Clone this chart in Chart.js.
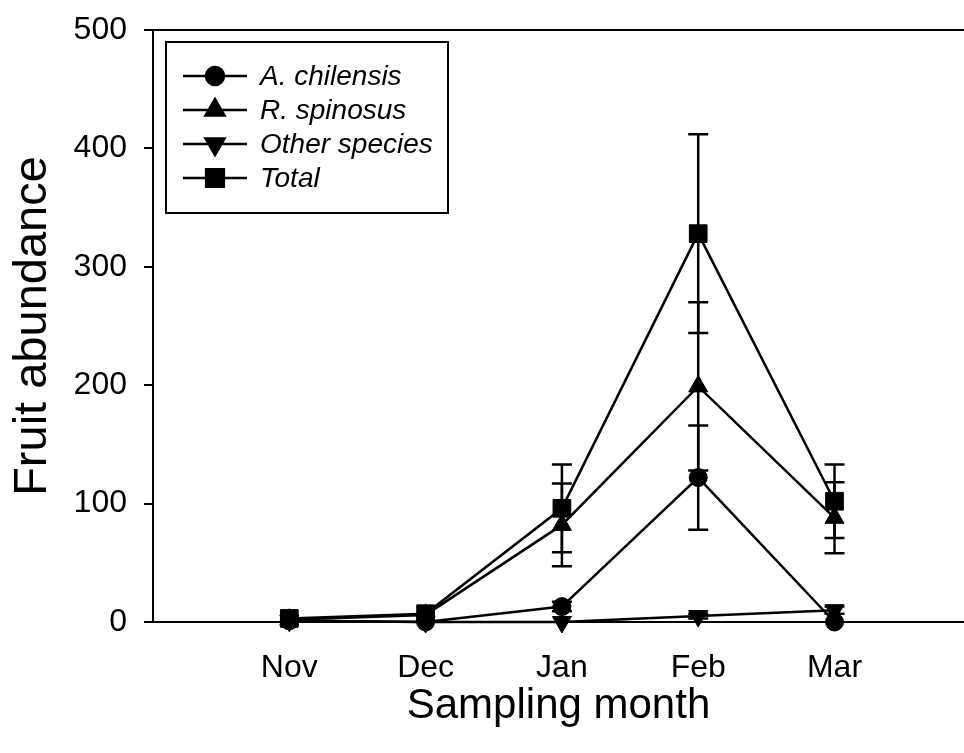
<!DOCTYPE html>
<html>
<head>
<meta charset="utf-8">
<script src="https://cdn.jsdelivr.net/npm/chart.js@4.4.0/dist/chart.umd.min.js"></script>
<style>
  html, body { margin: 0; padding: 0; background: #fff; }
  canvas { display: block; }
</style>
</head>
<body>
<canvas id="fruitChart" width="964" height="753"></canvas>
<script>
// data
const months = ['Nov', 'Dec', 'Jan', 'Feb', 'Mar'];
const yTickValues = [0, 100, 200, 300, 400, 500];

const chilensis = [1, 0, 13, 122, 0];
const chilensisErr = [0, 0, 4, 44, 0];
const spinosus = [2, 6, 82, 199, 88];
const spinosusErr = [0, 0, 35, 71, 30];
const otherSpecies = [1, 0, 0, 5, 10];
const otherErr = [0, 0, 0, 2, 3];
const total = [3, 7, 96, 328, 102];
const totalErr = [0, 0, 37, 84, 31];

const FONT = '"Liberation Sans", Arial, sans-serif';

// month index 1..5 on a linear axis, the plot runs slightly past the canvas edge
function toPoints(values) {
    return values.map((v, i) => ({ x: i + 1, y: v }));
}

function makeSeries(label, values, errors, style, rotation, radius) {
    return {
        label: label,
        data: toPoints(values),
        errors: errors,
        borderColor: '#000',
        backgroundColor: '#000',
        borderWidth: 2.5,
        pointStyle: style,
        rotation: rotation,
        pointRadius: radius,
        pointBorderWidth: 1,
        tension: 0,
        clip: false
    };
}

// Error bars - drawn before the markers so the markers sit on top
const errorBars = {
    id: 'errorBars',
    beforeDatasetsDraw(chart) {
        const ctx = chart.ctx;
        const x = chart.scales.x, y = chart.scales.y;
        ctx.save();
        ctx.strokeStyle = '#000';
        ctx.lineWidth = 2.5;
        chart.data.datasets.forEach(ds => {
            ds.data.forEach((p, i) => {
                const e = ds.errors[i];
                if (!e) return;
                const px = x.getPixelForValue(p.x);
                const top = y.getPixelForValue(p.y + e);
                const bot = y.getPixelForValue(p.y - e);
                ctx.beginPath();
                ctx.moveTo(px, top); ctx.lineTo(px, bot);
                ctx.moveTo(px - 10, top); ctx.lineTo(px + 10, top);
                ctx.moveTo(px - 10, bot); ctx.lineTo(px + 10, bot);
                ctx.stroke();
            });
        });
        ctx.restore();
    }
};

// Top frame line + boxed legend with line-through markers
const frameAndLegend = {
    id: 'frameAndLegend',
    afterDraw(chart) {
        const ctx = chart.ctx;
        const area = chart.chartArea;
        ctx.save();
        ctx.strokeStyle = '#000';
        ctx.lineWidth = 2;
        ctx.beginPath();
        ctx.moveTo(area.left, area.top);
        ctx.lineTo(area.right, area.top);
        ctx.stroke();

        const bx = area.left + 13, by = area.top + 12;
        ctx.strokeRect(bx, by, 282, 171);

        ctx.font = 'italic 28px ' + FONT;
        ctx.textBaseline = 'middle';
        ctx.fillStyle = '#000';
        chart.data.datasets.forEach((ds, i) => {
            const ry = by + 34 + i * 34;
            ctx.lineWidth = 2.5;
            ctx.beginPath();
            ctx.moveTo(bx + 17, ry);
            ctx.lineTo(bx + 81, ry);
            ctx.stroke();
            Chart.helpers.drawPoint(ctx, {
                pointStyle: ds.pointStyle,
                rotation: ds.rotation,
                radius: ds.pointRadius,
                borderWidth: 1
            }, bx + 49, ry);
            ctx.fill();
            ctx.fillText(ds.label, bx + 94, ry + 1);
        });
        ctx.restore();
    }
};

new Chart(document.getElementById('fruitChart'), {
    type: 'line',
    data: {
        datasets: [
            makeSeries('A. chilensis', chilensis, chilensisErr, 'circle', 0, 9),
            makeSeries('R. spinosus', spinosus, spinosusErr, 'triangle', 0, 11),
            makeSeries('Other species', otherSpecies, otherErr, 'triangle', 180, 11),
            makeSeries('Total', total, totalErr, 'rect', 0, 12.5)
        ]
    },
    options: {
        responsive: false,
        animation: false,
        events: [],
        layout: { autoPadding: false, padding: { top: 30, right: 0, left: 0, bottom: 0 } },
        plugins: {
            legend: { display: false },
            tooltip: { enabled: false }
        },
        scales: {
            x: {
                type: 'linear',
                min: 0,
                max: 5.95,
                afterBuildTicks: axis => {
                    axis.ticks = months.map((m, i) => ({ value: i + 1 }));
                },
                afterFit: axis => {
                    axis.height = 131;
                    axis.paddingLeft = 0;
                    axis.paddingRight = 0;
                },
                ticks: {
                    color: '#000',
                    padding: 27,
                    font: { family: FONT, size: 32 },
                    callback: v => months[v - 1] || ''
                },
                grid: { display: false, drawTicks: false },
                border: { display: true, color: '#000', width: 2 },
                title: {
                    display: true,
                    text: 'Sampling month',
                    color: '#000',
                    font: { family: FONT, size: 42, lineHeight: 1 },
                    padding: { top: 0, bottom: 26 }
                }
            },
            y: {
                min: 0,
                max: 500,
                afterBuildTicks: axis => {
                    axis.ticks = yTickValues.map(v => ({ value: v }));
                },
                afterFit: axis => {
                    axis.width = 153;
                    axis.paddingTop = 0;
                    axis.paddingBottom = 0;
                },
                ticks: {
                    color: '#000',
                    padding: 17,
                    font: { family: FONT, size: 32 }
                },
                grid: {
                    drawOnChartArea: false,
                    drawTicks: true,
                    tickLength: 9,
                    color: '#000',
                    lineWidth: 2
                },
                border: { display: true, color: '#000', width: 2 },
                title: {
                    display: true,
                    text: 'Fruit abundance',
                    color: '#000',
                    font: { family: FONT, size: 47, lineHeight: 1 },
                    padding: { top: 10, bottom: 0 }
                }
            }
        }
    },
    plugins: [errorBars, frameAndLegend]
});
</script>
</body>
</html>
